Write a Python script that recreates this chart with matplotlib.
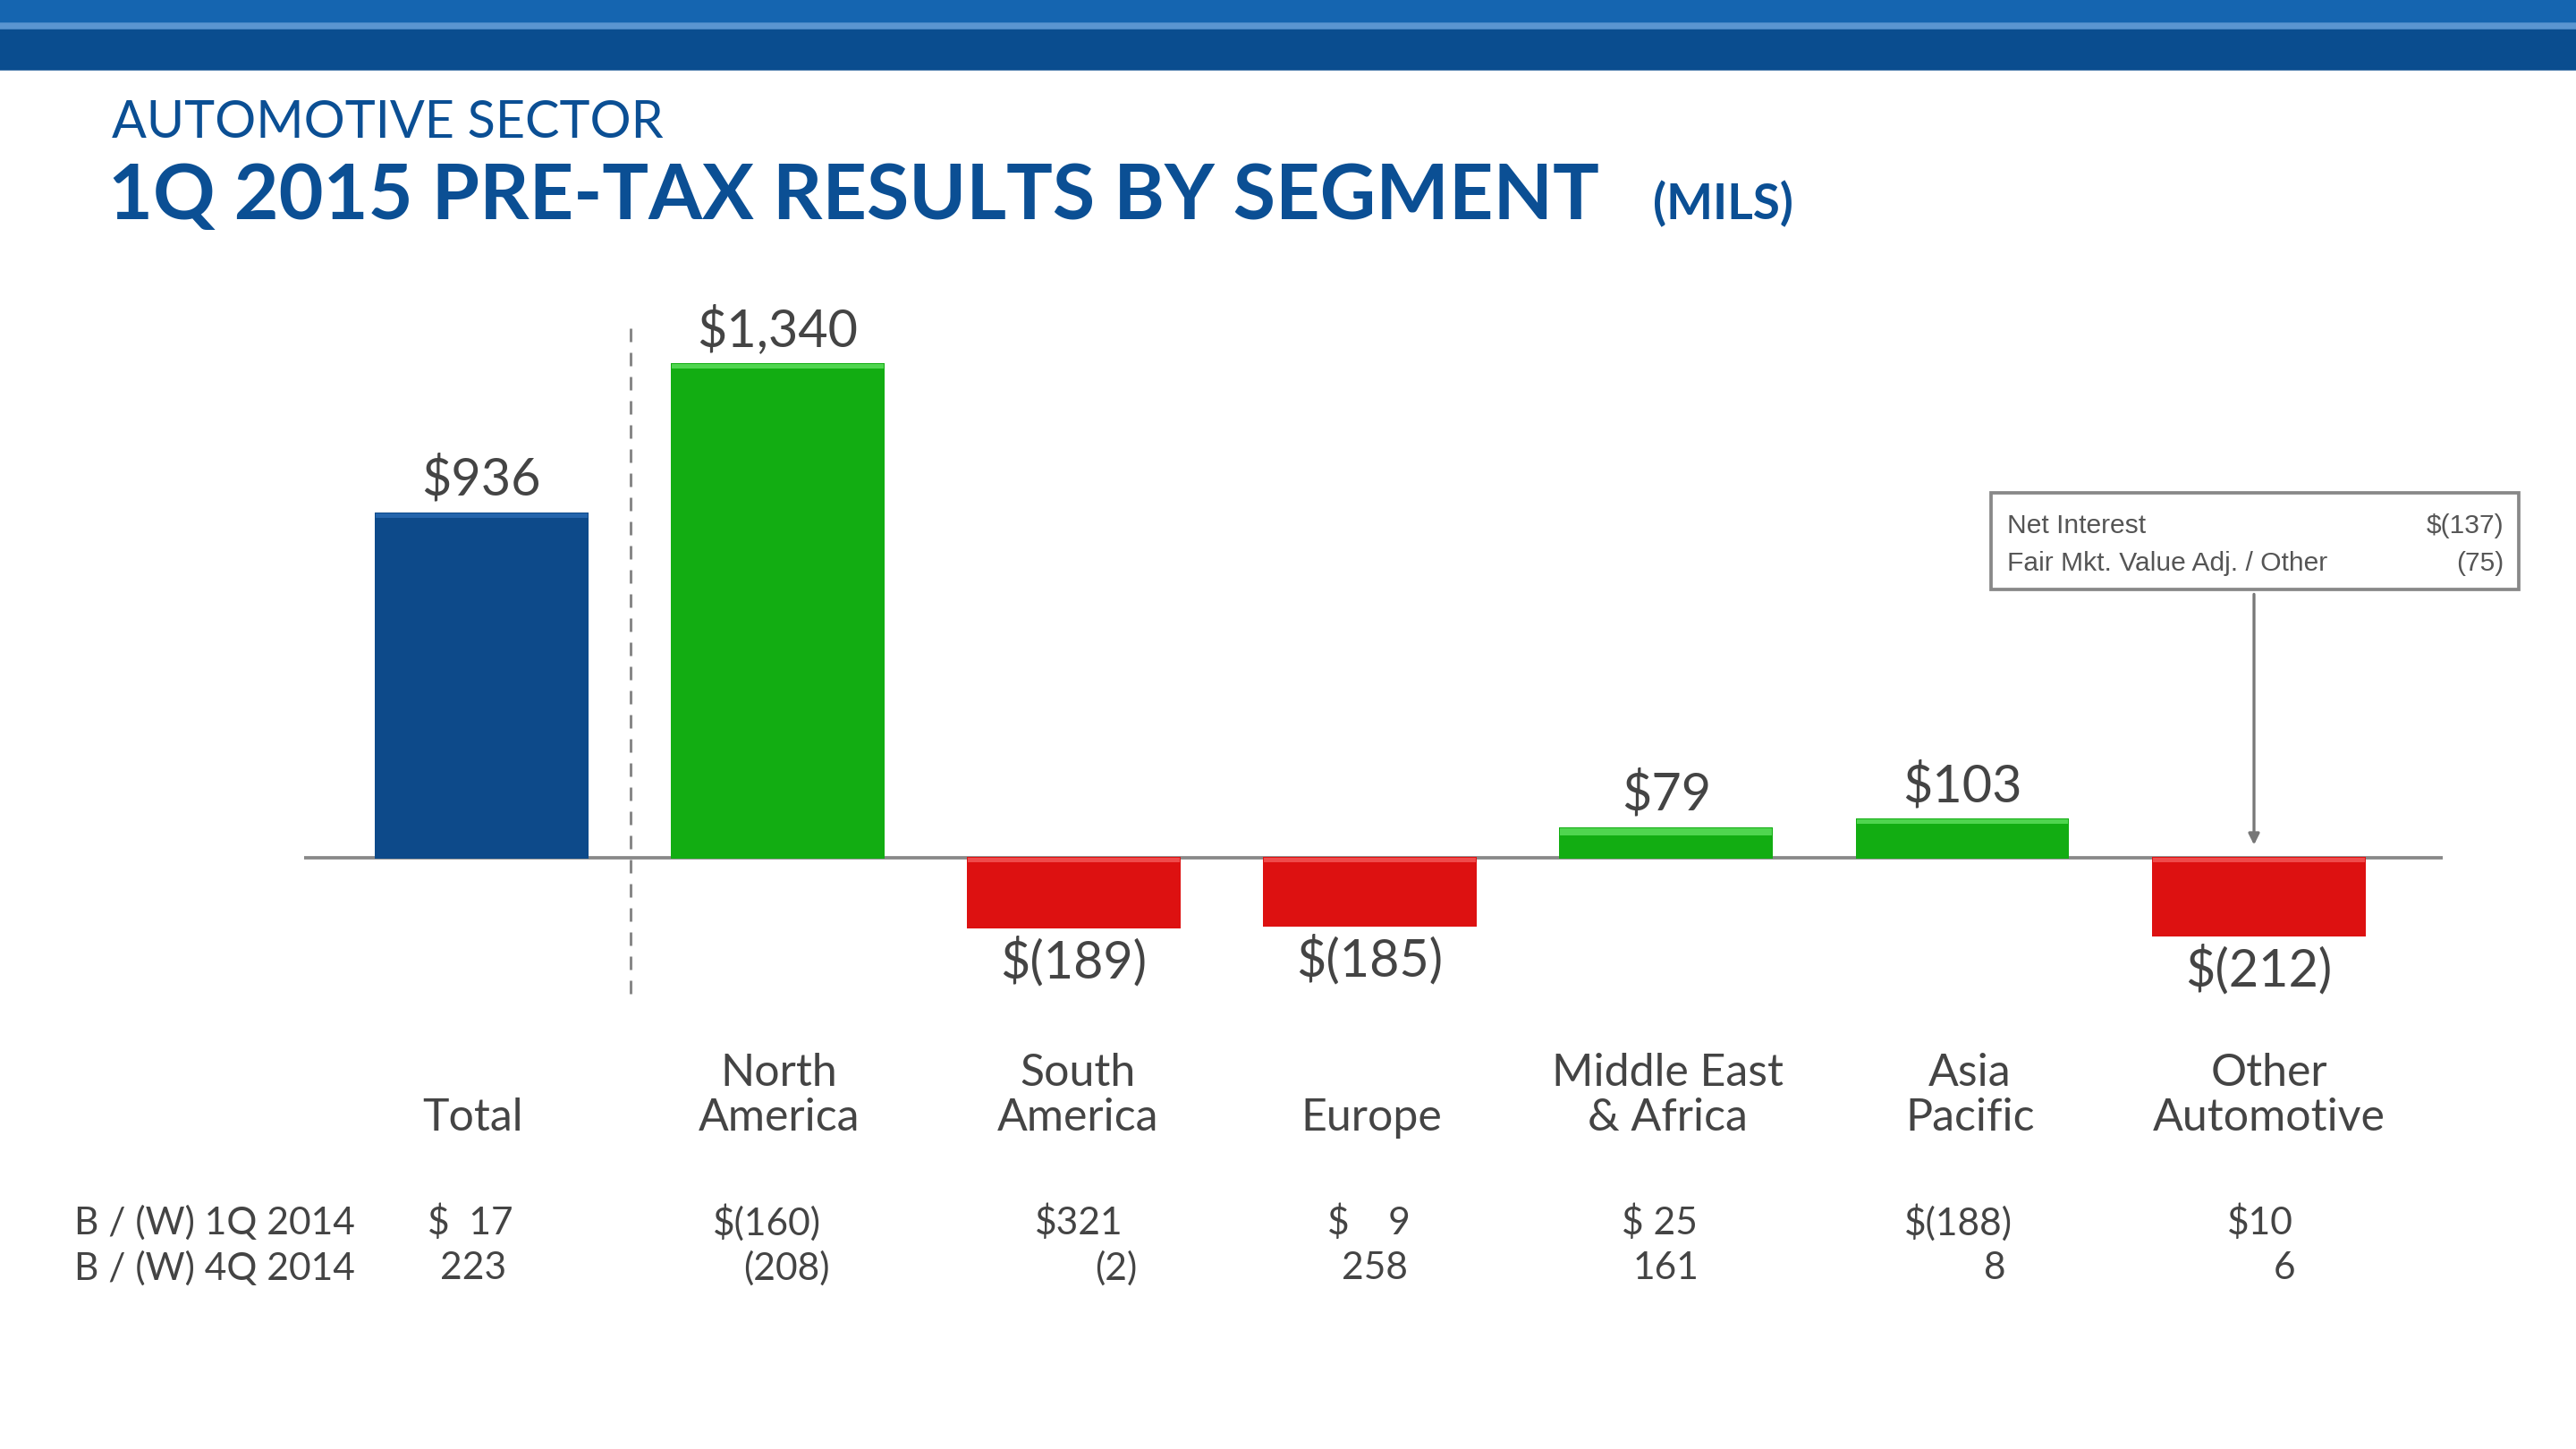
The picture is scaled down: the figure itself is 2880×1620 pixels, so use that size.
import matplotlib.pyplot as plt
from matplotlib.patches import Rectangle

plt.rcParams['font.family'] = ['Lato', 'DejaVu Sans']

categories = ["Total", "North\nAmerica", "South\nAmerica", "Europe",
              "Middle East\n& Africa", "Asia\nPacific", "Other\nAutomotive"]
values = [936, 1340, -189, -185, 79, 103, -212]
value_labels = ["$936", "$1,340", "$(189)", "$(185)", "$79", "$103", "$(212)"]
row1_label = "B / (W) 1Q 2014"
row2_label = "B / (W) 4Q 2014"
row1 = ["$  17", "$(160)", "$321", "$    9", "$ 25", "$(188)", "$10"]
row2 = ["223", "(208)", "(2)", "258", "161", "8", "6"]
positions = [0, 1, 2, 3, 4, 5, 6]

W, H = 1568, 882
def fx(x): return x / W
def fy(y): return 1 - y / H

fig = plt.figure(figsize=(16, 9), dpi=180)
fig.patch.set_facecolor("white")

# header band
fig.add_artist(Rectangle((0, fy(42)), 1, 42 / H, transform=fig.transFigure, color="#0a4d8f"))
fig.add_artist(Rectangle((0, fy(14)), 1, 14 / H, transform=fig.transFigure, color="#1565b0"))
fig.add_artist(Rectangle((0, fy(17)), 1, 3 / H, transform=fig.transFigure, color="#5a95d0"))

blue = "#0b4f94"
fig.text(fx(68), fy(75), "AUTOMOTIVE SECTOR", color=blue, fontsize=23, va="center")
fig.text(fx(66), fy(120), "1Q 2015 PRE-TAX RESULTS BY SEGMENT", color=blue, fontsize=34.5,
         fontweight="bold", va="center")
fig.text(fx(1006), fy(124), "(MILS)", color=blue, fontsize=22, fontweight="bold", va="center")

# axes: x px 185..1487, y px 150..620
ax = fig.add_axes([fx(185), fy(620), (1487 - 185) / W, (620 - 150) / H])
step = 180.3
ax.set_xlim((185 - 293) / step, (1487 - 293) / step)
ppu = 0.224
ax.set_ylim(-(620 - 522) / ppu, (522 - 150) / ppu)
ax.axis("off")

colors = []
for i, v in enumerate(values):
    if i == 0:
        colors.append(("#0d4a8a", "#2a6db5"))
    elif v >= 0:
        colors.append(("#12ad12", "#5fe05f"))
    else:
        colors.append(("#dd1111", "#f45a5a"))

bw = 129 / step
for p, v, (c, lc) in zip(positions, values, colors):
    ax.bar(p, v, width=bw, color=c, edgecolor=c, linewidth=0.8, zorder=2)
    edge = 12 if abs(v) > 100 else max(abs(v) * 0.25, 3)
    top = v if v > 0 else 0
    ax.bar(p, -edge, bottom=top, width=bw, color=lc, zorder=3, alpha=0.8)

ax.axhline(0, color="#888888", linewidth=1.5, zorder=1)
ax.plot([(384 - 293) / step] * 2, [(522 - 605) / ppu, (522 - 200) / ppu],
        color="#888888", linestyle=(0, (5, 4)), linewidth=1.2)

for p, v, lab in zip(positions, values, value_labels):
    if v >= 0:
        ax.text(p, v + 25, lab, ha="center", va="bottom", fontsize=23, color="#444444")
    else:
        ax.text(p, v - 25, lab, ha="center", va="top", fontsize=23, color="#444444")

# callout
ax.add_patch(Rectangle(((1212 - 293) / step, (522 - 359) / ppu), 321 / step, 59 / ppu,
                       facecolor="white", edgecolor="#888888", linewidth=1.5, zorder=4,
                       clip_on=False))
ax.annotate("", xy=((1372 - 293) / step, (522 - 517) / ppu),
            xytext=((1372 - 293) / step, (522 - 359) / ppu),
            arrowprops=dict(arrowstyle="-|>", color="#777777", lw=1.3))
for y, a, b in [(320, "Net Interest", "$(137)"), (343, "Fair Mkt. Value Adj. / Other", "(75)")]:
    fig.text(fx(1222), fy(y), a, fontsize=12, color="#555555", va="center", family="Liberation Sans")
    fig.text(fx(1524), fy(y), b, fontsize=12, color="#555555", va="center", ha="right",
             family="Liberation Sans")

centers = [288, 474, 656, 835, 1015, 1199, 1381]
for cx, cat in zip(centers, categories):
    fig.text(fx(cx), fy(693), cat, ha="center", va="bottom", fontsize=20, color="#444444",
             linespacing=1.1)

fig.text(fx(45), fy(744), row1_label, fontsize=17, color="#444444", va="center")
fig.text(fx(45), fy(772), row2_label, fontsize=17, color="#444444", va="center")
r1x = [286, 467, 657, 833, 1010, 1192, 1376]
r2x = [308, 505, 692, 857, 1034, 1221, 1397]
for x, t in zip(r1x, row1):
    fig.text(fx(x), fy(744), t, fontsize=17, color="#444444", va="center", ha="center")
for x, t in zip(r2x, row2):
    fig.text(fx(x), fy(772), t, fontsize=17, color="#444444", va="center", ha="right")

fig.savefig("out.png", dpi=180)
